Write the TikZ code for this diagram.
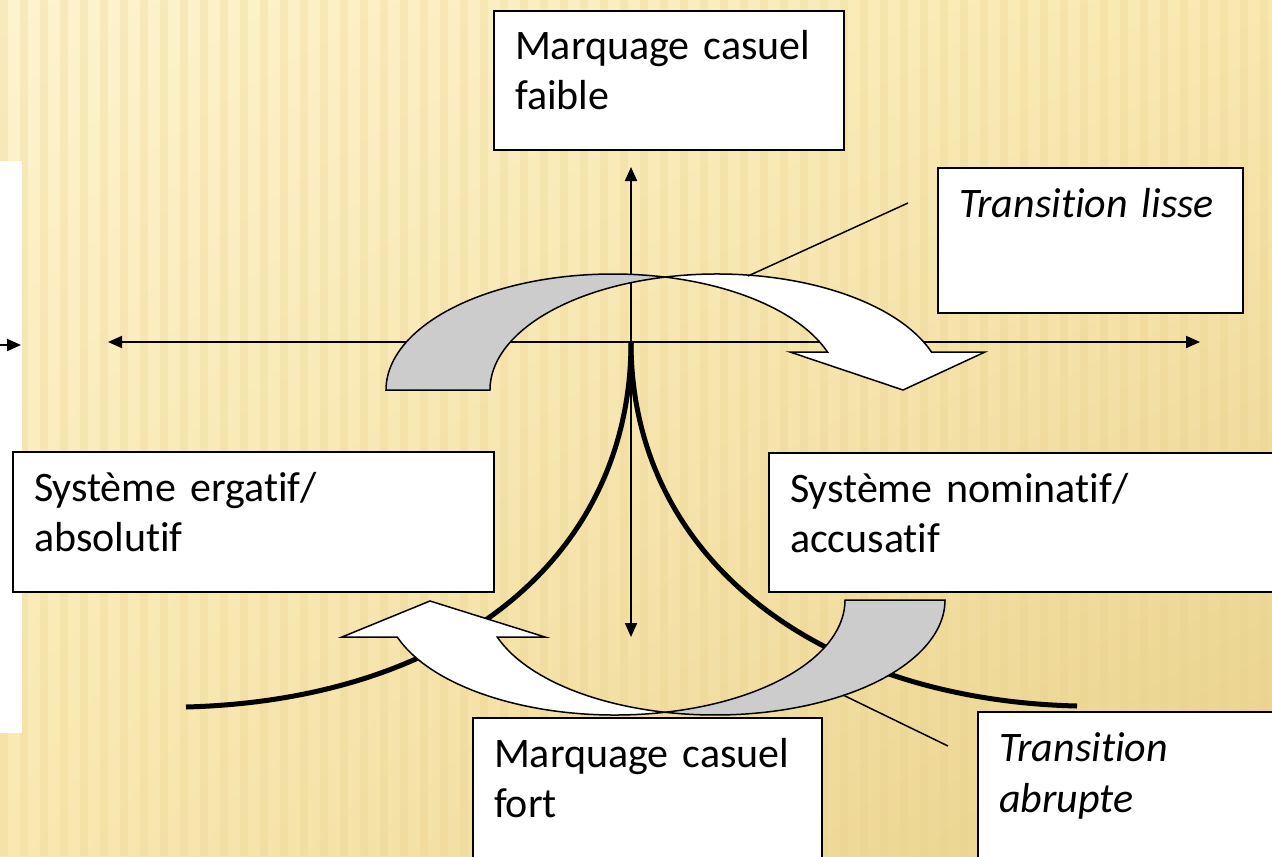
\documentclass[tikz,border=0pt]{standalone}
\usepackage{fontspec}
\setmainfont{Carlito}[Ligatures=NoCommon]
\usetikzlibrary{arrows.meta,shadings}
\definecolor{bgA}{RGB}{253,243,205}
\definecolor{bgB}{RGB}{249,232,176}
\definecolor{bgC}{RGB}{233,209,140}
\definecolor{shadegray}{RGB}{204,204,204}
\newcommand\tiglyphs{t\kern0pt i}
\begin{document}
\begin{tikzpicture}[x=0.5pt,y=-0.5pt,inner sep=0pt,outer sep=0pt,
>={Triangle[length=7pt,width=6pt]},
axis/.style={line width=1pt},
fan/.style={line width=2.5pt},
bandarrow/.style={draw,line width=0.75pt,line join=miter},
callout/.style={line width=0.75pt},
casebox/.style={draw,fill=white,line width=0.75pt,anchor=north west,align=left,inner xsep=10.5pt,text height=24.5pt,font=\fontsize{21}{25}\selectfont}]
\useasboundingbox (0,0) rectangle (1272,856);
\clip (0,0) rectangle (1272,856);
\shade[upper left=bgA,upper right=bgB,lower left=bgB,lower right=bgC] (0,0) rectangle (1272,856);
\foreach \s in {0,20,...,1260} \fill[bgC,opacity=0.25] (\s,0) rectangle ++(8,856);
\fill[white] (0,161) rectangle (22,733);
\coordinate (stub) at (0,345);
\coordinate (stubtip) at (21,345);
\draw[axis,->] (stub) -- (stubtip);

\coordinate (origin) at (631,342);
\coordinate (west) at (108,342);
\coordinate (east) at (1200,342);
\coordinate (north) at (631,167);
\coordinate (south) at (631,637);
\coordinate (ergEnd) at (186,707);
\coordinate (nomEnd) at (1077,706);
\draw[axis,<->] (west) -- (east);
\draw[axis,<->] (north) -- (south);
\draw[fan] (origin) .. controls (631,560) and (450,700) .. (ergEnd);
\draw[fan] (origin) .. controls (631,560) and (820,700) .. (nomEnd);

\draw[bandarrow,fill=shadegray] (386,390) arc[start angle=180,end angle=283.24,x radius=227,y radius=116]
  arc[start angle=256.76,end angle=180,x radius=227,y radius=116] -- cycle;
\draw[bandarrow,fill=white] (827.48,352) arc[start angle=340.88,end angle=283.24,x radius=227,y radius=116]
  arc[start angle=256.76,end angle=340.88,x radius=227,y radius=116] -- (985,352) -- (903,390) -- (790,352) -- cycle;
\draw[bandarrow,fill=shadegray] (945,600) arc[start angle=0,end angle=102.556,x radius=230,y radius=115]
  arc[start angle=77.444,end angle=0,x radius=230,y radius=115] -- cycle;
\draw[bandarrow,fill=white] (497.23,637) arc[start angle=161.232,end angle=102.556,x radius=230,y radius=115]
  arc[start angle=77.444,end angle=161.232,x radius=230,y radius=115] -- (342,637) -- (430,601) -- (545,637) -- cycle;

\draw (494,11) node[casebox,text width=154pt,text depth=45pt] (faible) {Marquage casuel\\faible};
\draw (13,452) node[casebox,text width=219.5pt,text depth=45.5pt] (ergatif) {Système erga\tiglyphs f/\\absolu\tiglyphs f};
\draw (769,453) node[casebox,text width=239.5pt,text depth=45pt] (nominatif) {Système nomina\tiglyphs f/\\accusa\tiglyphs f};
\draw (938,168) node[casebox,text width=131.5pt,text depth=48pt,font=\fontsize{21}{25}\selectfont\itshape] (lisse) {Transi\tiglyphs on lisse};
\draw (473,718) node[casebox,text width=153.5pt,text depth=60pt] (fort) {Marquage casuel\\fort};
\draw (978,712) node[casebox,text width=135pt,text depth=60pt,font=\fontsize{21}{25.5}\selectfont\itshape] (abrupte) {Transi\tiglyphs on\\abrupte};

\coordinate (lisseFoot) at (748,276);
\coordinate (lisseTail) at (908,203);
\coordinate (abrFoot) at (843,695);
\coordinate (abrTail) at (948,746);
\draw[callout] (lisseFoot) -- (lisseTail);
\draw[callout] (abrFoot) -- (abrTail);
\end{tikzpicture}
\end{document}
